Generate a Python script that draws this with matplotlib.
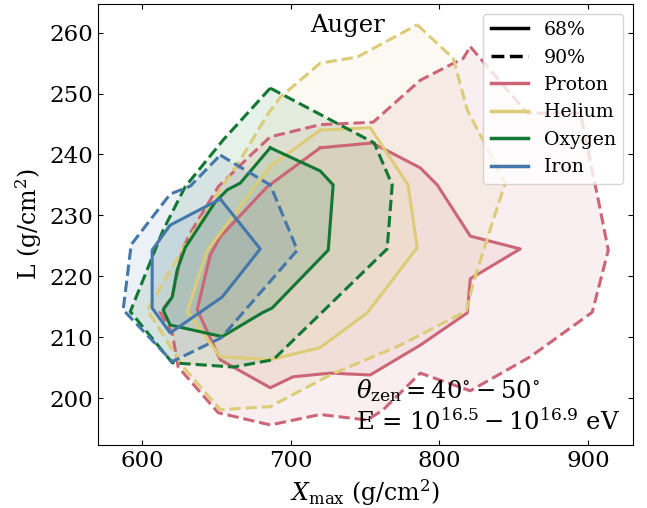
import numpy as np
import matplotlib
matplotlib.use("Agg")
import matplotlib.pyplot as plt
from matplotlib.lines import Line2D

plt.rcParams["font.family"] = "DejaVu Serif"
plt.rcParams["mathtext.fontset"] = "dejavuserif"

# contour outlines (Xmax, L) for each primary, 68% and 90% levels
proton_68_x = [719.9, 754.9, 787.2, 798.6, 820.8, 854.4, 820.8, 818.8, 787.2, 753.5,
               726.6, 701.7, 686.3, 652.7, 637.2, 645.9, 652.7, 684.3]
proton_68_L = [241.1, 241.9, 237.8, 235.0, 226.6, 224.5, 219.6, 214.0, 208.7, 203.8,
               204.1, 203.5, 201.7, 206.3, 214.5, 223.5, 226.5, 234.7]
proton_90_x = [820.8, 859.1, 894.8, 906.9, 913.6, 902.8, 861.2, 820.8, 787.2, 762.3,
               751.5, 719.9, 686.3, 651.3, 624.4, 620.4, 612.3, 620.4, 627.1, 632.5,
               651.3, 674.9, 686.3, 719.9, 755.5, 787.2, 816.1]
proton_90_L = [257.7, 246.8, 246.8, 232.5, 224.3, 214.1, 206.8, 201.2, 204.1, 198.1,
               196.4, 197.3, 195.6, 197.6, 205.1, 210.7, 214.1, 216.6, 224.3, 227.1,
               234.7, 240.3, 242.9, 244.9, 245.3, 252.2, 255.8]

helium_68_x = [719.9, 753.5, 779.0, 785.1, 751.5, 719.9, 686.3, 652.7, 630.5, 644.0,
               652.7, 686.3]
helium_68_L = [244.0, 244.4, 235.0, 224.7, 214.0, 208.3, 206.3, 206.8, 214.2, 224.3,
               227.1, 238.1]
helium_90_x = [785.1, 809.3, 818.8, 844.3, 836.3, 822.8, 818.1, 773.8, 726.6, 686.3,
               652.7, 627.8, 603.6, 627.1, 651.3, 666.1, 684.3, 693.0, 719.9, 744.8]
helium_90_L = [261.3, 255.8, 247.3, 235.3, 229.3, 218.9, 214.3, 208.7, 203.8, 198.6,
               198.1, 205.1, 214.5, 224.3, 233.7, 239.1, 246.5, 249.4, 255.0, 256.0]

oxygen_68_x = [686.3, 719.9, 728.6, 725.3, 687.6, 680.9, 654.0, 619.0, 614.3, 620.4,
               623.7, 629.1, 649.3, 657.4, 666.1]
oxygen_68_L = [241.1, 237.3, 235.0, 224.3, 214.8, 214.0, 210.1, 212.0, 214.5, 216.6,
               221.0, 224.7, 232.2, 234.2, 235.3]
oxygen_90_x = [686.3, 756.2, 768.3, 764.9, 688.3, 661.4, 620.4, 592.2, 614.3, 629.1,
               654.7]
oxygen_90_L = [250.9, 241.9, 235.0, 224.5, 206.3, 205.1, 205.8, 214.2, 227.6, 234.7,
               242.4]

iron_68_x = [652.7, 679.6, 654.0, 619.0, 606.9, 606.9, 619.0]
iron_68_L = [232.7, 224.5, 216.6, 210.7, 214.8, 224.3, 228.4]
iron_90_x = [652.7, 686.3, 704.5, 653.3, 620.4, 587.4, 592.8, 619.0, 632.5]
iron_90_L = [239.9, 235.0, 224.3, 209.9, 206.0, 214.5, 225.2, 233.5, 234.8]

names = ["Proton", "Helium", "Oxygen", "Iron"]
colors = ["#CC6677", "#DDCC77", "#117733", "#4477AA"]
contours = {
    "Proton": [(proton_68_x, proton_68_L), (proton_90_x, proton_90_L)],
    "Helium": [(helium_68_x, helium_68_L), (helium_90_x, helium_90_L)],
    "Oxygen": [(oxygen_68_x, oxygen_68_L), (oxygen_90_x, oxygen_90_L)],
    "Iron": [(iron_68_x, iron_68_L), (iron_90_x, iron_90_L)],
}

fig = plt.figure(figsize=(6.47, 5.08), dpi=100)
ax = fig.add_axes([0.1515, 0.124, 0.8264, 0.868])

for name, c in zip(names, colors):
    for (xs, ls), style in zip(contours[name], ["-", "--"]):
        xs = list(xs) + [xs[0]]
        ls = list(ls) + [ls[0]]
        ax.fill(xs, ls, color=c, alpha=0.1, lw=0)
        ax.plot(xs, ls, color=c, ls=style, lw=2.2)

handles = [Line2D([], [], color="k", ls="-", lw=2.5, label="68%"),
           Line2D([], [], color="k", ls="--", lw=2.5, label="90%")]
for name, c in zip(names, colors):
    handles.append(Line2D([], [], color=c, lw=2.5, label=name))
ax.legend(handles=handles, loc="upper right", fontsize=13.6)

ax.text(0.467, 0.952, "Auger", transform=ax.transAxes, ha="center", va="center",
        fontsize=17.5)
ax.text(0.483, 0.024,
        r"$\theta_{\rm zen} = 40^{\circ} - 50^{\circ}$" + "\n" + r"E = $10^{16.5} - 10^{16.9}$ eV",
        transform=ax.transAxes, ha="left", va="bottom", fontsize=17.5)

ax.set_xlim(570.5, 930)
ax.set_ylim(192.3, 264.7)
ax.set_xticks([600, 700, 800, 900])
ax.set_yticks([200, 210, 220, 230, 240, 250, 260])
ax.tick_params(direction="in", top=True, right=True, labelsize=16.5)
ax.set_xlabel(r"$X_{\rm max}$ (g/cm$^2$)", fontsize=17)
ax.set_ylabel(r"L (g/cm$^2$)", fontsize=17)

fig.savefig("out.png", dpi=100)
